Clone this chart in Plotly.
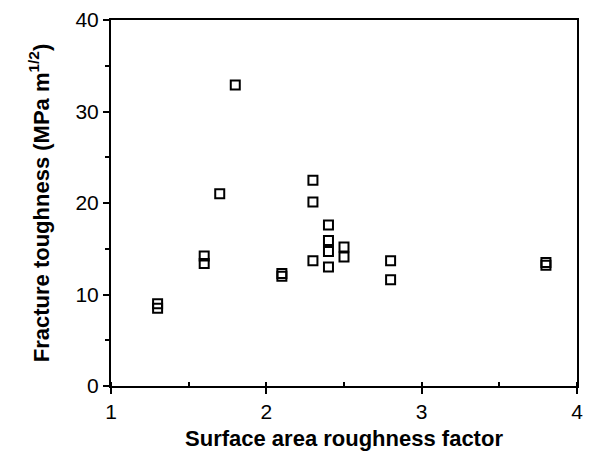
import plotly.graph_objects as go

roughness = [1.3, 1.3, 1.6, 1.6, 1.7, 1.8, 2.1, 2.1, 2.3, 2.3, 2.3,
             2.4, 2.4, 2.4, 2.4, 2.5, 2.5, 2.8, 2.8, 3.8, 3.8]
toughness = [9.0, 8.5, 14.2, 13.4, 21.0, 32.9, 12.3, 12.0, 22.5, 20.1, 13.7,
             17.6, 15.9, 14.7, 13.0, 15.2, 14.1, 13.7, 11.6, 13.5, 13.2]

x_ticks = [1, 2, 3, 4]
y_ticks = [0, 10, 20, 30, 40]

fig = go.Figure()
fig.add_trace(go.Scatter(
    x=roughness, y=toughness, mode="markers",
    marker=dict(symbol="square-open", size=9, color="black",
                line=dict(width=2, color="black")),
    showlegend=False,
))

FAM = "Liberation Sans, Arial, sans-serif"

fig.update_layout(
    width=591, height=466,
    margin=dict(l=111, r=8, t=16, b=80),
    plot_bgcolor="white", paper_bgcolor="white",
    font=dict(size=18, family=FAM, color="black"),
    xaxis=dict(
        range=[1, 4], tickvals=x_ticks, ticks="outside", ticklen=6,
        tickwidth=1.5, tickcolor="black", showline=True, linewidth=2,
        linecolor="black", mirror=True, showgrid=False, zeroline=False,
        minor=dict(dtick=0.5, ticks="inside", ticklen=4, tickcolor="black", showgrid=False),
        tickfont=dict(size=21, family=FAM, color="black"),
        title=dict(text="<b>Surface area roughness factor</b>",
                   font=dict(size=22, family=FAM, color="black"), standoff=8),
    ),
    yaxis=dict(
        range=[0, 40], tickvals=y_ticks, ticks="outside", ticklen=6,
        tickwidth=1.5, tickcolor="black", showline=True, linewidth=2,
        linecolor="black", mirror=True, showgrid=False, zeroline=False,
        minor=dict(dtick=5, ticks="outside", ticklen=4, tickcolor="black", showgrid=False),
        tickfont=dict(size=21, family=FAM, color="black"),
        title=dict(text="<b>Fracture toughness (MPa m<sup>1/2</sup>)</b>",
                   font=dict(size=22, family=FAM, color="black"), standoff=20),
    ),
)

fig.write_html("out.html",
               config={"displayModeBar": False},
               post_script="document.documentElement.style.margin='0';document.body.style.margin='0';document.body.style.overflow='hidden';")
